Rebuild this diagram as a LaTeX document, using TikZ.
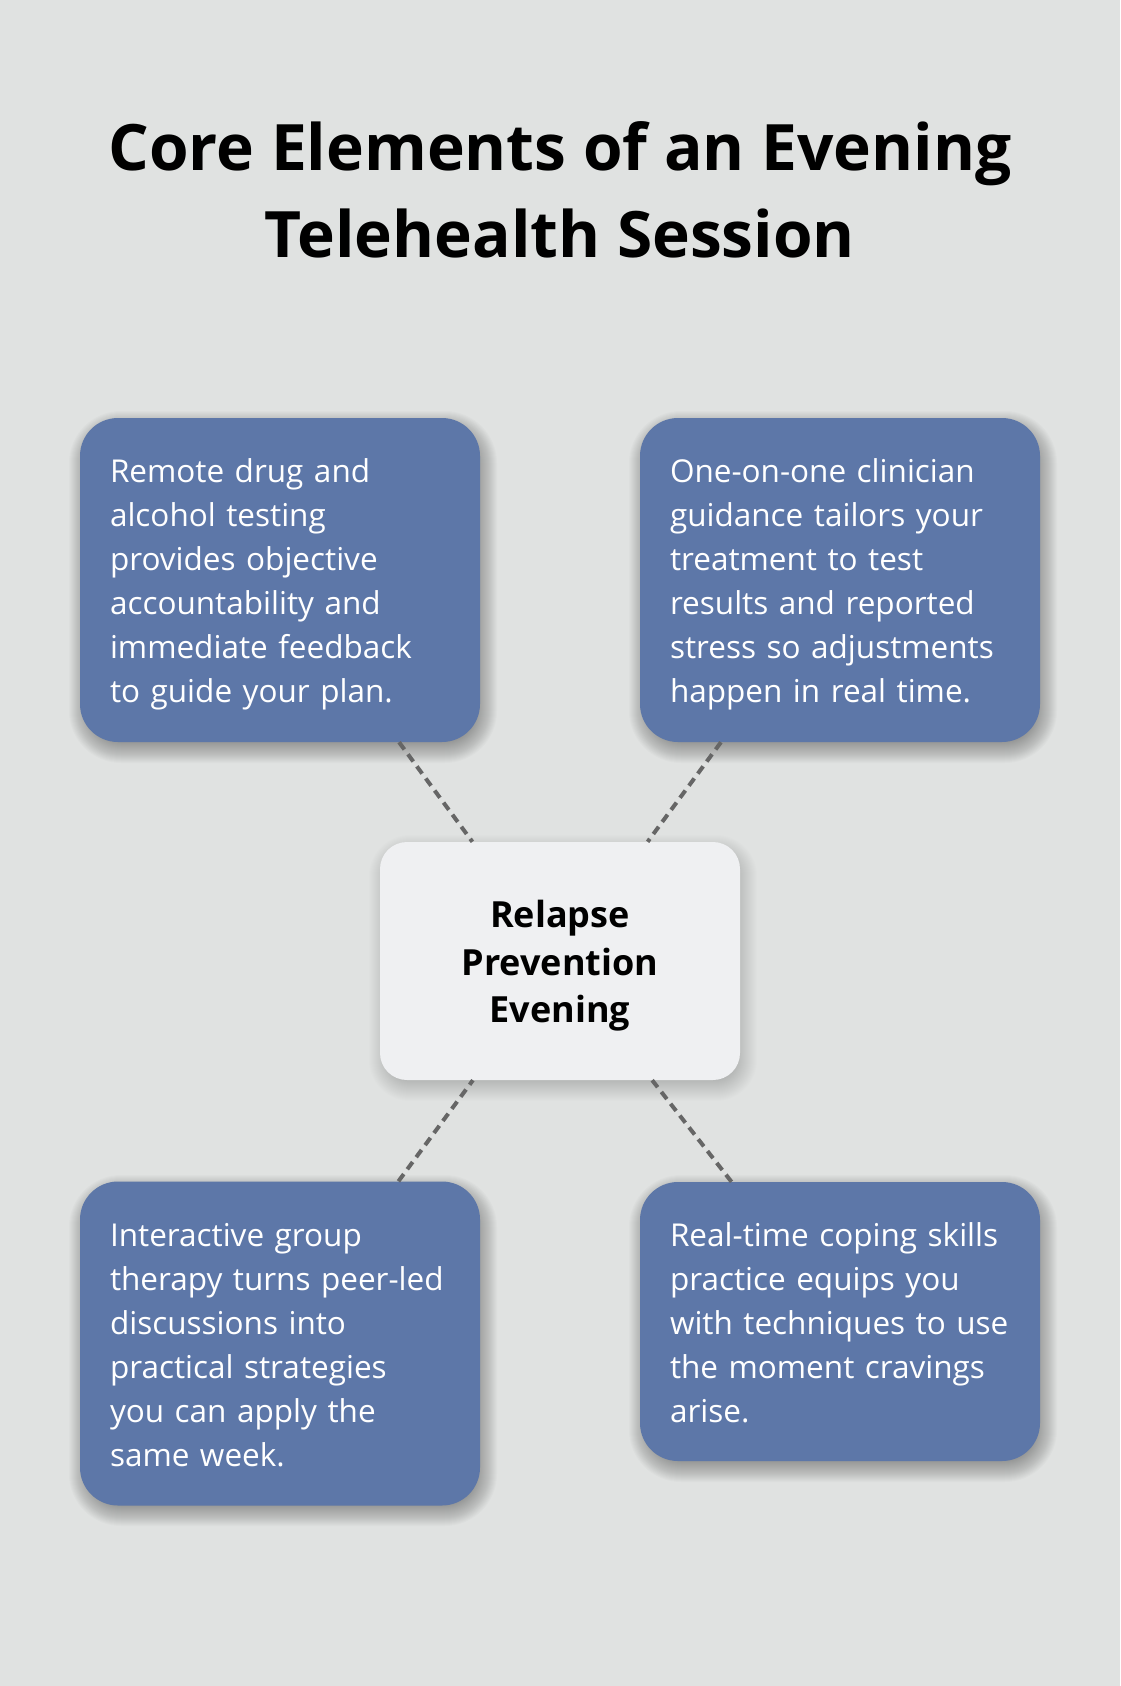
\documentclass[tikz,border=0pt]{standalone}
\usepackage{fontspec}
\setmainfont{Open Sans}
\definecolor{canvas}{HTML}{E0E2E1}
\definecolor{cardblue}{HTML}{5D77A8}
\definecolor{hubgray}{HTML}{EFF0F2}
\definecolor{linkgray}{HTML}{666666}
\newcommand{\cardlead}[1]{\rule{0pt}{#1}}
\newcommand{\cardtail}{\rule[-9pt]{0pt}{9pt}}
\begin{document}
\begin{tikzpicture}[x=1pt,y=1pt,
        card/.style={fill=cardblue,rounded corners=38pt,text=white,align=left,
            text width=340pt,inner xsep=30pt,inner ysep=0pt,minimum height=324pt,
            font=\fontsize{31.5}{44}\selectfont},
        hub/.style={fill=hubgray,rounded corners=27pt,align=center,
            minimum width=360pt,minimum height=238pt,inner sep=0pt,
            font=\fontsize{36}{47.8}\selectfont\bfseries},
        link/.style={draw=linkgray,line width=4pt,dash pattern=on 9pt off 6pt}]
    \fill[canvas] (0,0) rectangle (1120,-1686);
    % soft shadows under the boxes
    \foreach \cx/\cy/\w/\h/\r/\o in {280/-580/400/324/38/0.017,840/-580/400/324/38/0.017,
            280/-1343.5/400/323/38/0.017,840/-1321.5/400/279/38/0.017,560/-961/360/238/27/0.009}{
        \foreach \s in {-10,...,14}
            \fill[black,opacity=\o,rounded corners={(\r+\s)*1pt}]
                (\cx-\w/2-\s+3,\cy-\h/2-\s-7) rectangle (\cx+\w/2+\s+3,\cy+\h/2+\s-7);
    }
    \node[anchor=north,align=center,inner sep=0pt,font=\fontsize{64}{87}\selectfont\bfseries] (title) at (560,-121)
        {Core Elements of an Evening\\Telehealth Session};
    \node[hub] (hub) at (560,-961) {\cardlead{37pt}Relapse\\Prevention\\Evening};
    \node[card] (testing) at (280,-580)
        {\cardlead{34pt}Remote drug and\\alcohol testing\\provides objective\\accountability and\\immediate feedback\\to guide your plan.\cardtail};
    \node[card] (guidance) at (840,-580)
        {\cardlead{34pt}One-on-one clinician\\guidance tailors your\\treatment to test\\results and reported\\stress so adjustments\\happen in real time.\cardtail};
    \node[card] (group) at (280,-1343.5)
        {\cardlead{34pt}Interactive group\\therapy turns peer-led\\discussions into\\practical strategies\\you can apply the\\same week.\cardtail};
    \node[card,minimum height=279pt] (coping) at (840,-1321.5)
        {\cardlead{34pt}Real-time coping skills\\practice equips you\\with techniques to use\\the moment cravings\\arise.\cardtail};
    \draw[link] (testing) -- (hub);
    \draw[link] (guidance) -- (hub);
    \draw[link] (group) -- (hub);
    \draw[link] (coping) -- (hub);
\end{tikzpicture}
\end{document}
